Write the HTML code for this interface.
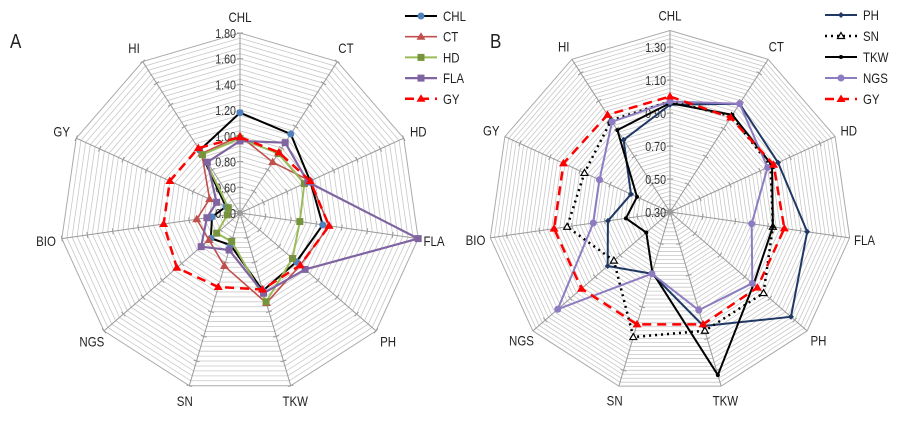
<!DOCTYPE html>
<html><head><meta charset="utf-8">
<style>
html,body{margin:0;padding:0;background:#fff;}
svg{display:block;font-family:"Liberation Sans",sans-serif;}
</style></head>
<body>
<svg id="chart" width="908" height="422" viewBox="0 0 908 422" xmlns="http://www.w3.org/2000/svg">
<text x="10" y="48" font-size="20" fill="#222" transform="translate(10,48) scale(0.85,1) translate(-10,-48)">A</text>
<text x="490" y="48" font-size="20" fill="#222" transform="translate(490,48) scale(0.85,1) translate(-490,-48)">B</text>
</svg>
<script>
const axesA = ["CHL","CT","HD","FLA","PH","TKW","SN","NGS","BIO","GY","HI"];
const axesB = ["CHL","CT","HD","FLA","PH","TKW","SN","NGS","BIO","GY","HI"];
const ticksA = ["0.40","0.60","0.80","1.00","1.20","1.40","1.60","1.80"];
const ticksB = ["0.30","0.50","0.70","0.90","1.10","1.30"];
const seriesNamesA = ["CHL","CT","HD","FLA","GY"];
const seriesNamesB = ["PH","SN","TKW","NGS","GY"];
const aCHL = [1.18,1.13,1.00,1.05,0.98,1.03,0.66,0.70,0.62,0.52,0.98];
const aCT  = [1.00,0.87,1.00,1.10,1.02,1.13,0.83,0.72,0.74,0.66,0.95];
const aHD  = [0.98,0.95,0.95,0.87,0.94,1.12,0.63,0.64,0.50,0.50,0.94];
const aFLA = [0.96,1.05,0.98,1.80,1.07,1.05,0.70,0.80,0.66,0.60,0.87];
const aGY  = [0.99,0.96,1.00,1.10,1.02,1.02,1.00,1.05,1.00,1.00,1.00];
const bPH  = [0.95,1.08,1.02,1.14,1.27,1.02,0.69,0.80,0.68,0.56,0.82];
const bSN  = [0.97,0.99,0.97,0.93,1.05,1.05,1.09,0.75,0.93,0.87,0.96];
const bTKW = [0.96,1.00,0.98,0.93,0.97,1.33,0.68,0.49,0.57,0.52,0.89];
const bNGS = [0.97,1.08,0.95,0.80,0.96,0.92,0.69,1.20,0.77,0.77,0.95];
const bGY  = [1.00,0.98,0.99,1.00,1.00,1.01,1.01,1.01,1.01,1.01,1.00];

const NS="http://www.w3.org/2000/svg";
const svg=document.getElementById('chart');
function mk(tag,attrs,parent){const e=document.createElementNS(NS,tag);for(const k in attrs)e.setAttribute(k,attrs[k]);(parent||svg).appendChild(e);return e;}
function txt(x,y,str,size,anchor,fill,parent){
  const t=mk('text',{x:x,y:y,'font-size':size,fill:fill,'text-anchor':anchor,
    transform:`translate(${x},${y}) scale(0.82,1) translate(${-x},${-y})`},parent);
  t.textContent=str;return t;
}

function radar(cfg){
  const g=mk('g',{});
  
  
  const n=cfg.axes.length;
  const ang=i=>i*2*Math.PI/n;
  const R=v=>(v-cfg.min)/(cfg.max-cfg.min)*cfg.radius;
  const pt=(i,v)=>[cfg.cx+R(v)*Math.sin(ang(i)),cfg.cy-R(v)*Math.cos(ang(i))];
  const steps=Math.round((cfg.max-cfg.min)/cfg.minor);
  for(let s=1;s<=steps;s++){
    const v=cfg.min+s*cfg.minor;
    const pts=cfg.axes.map((a,i)=>pt(i,v).join(',')).join(' ');
    const ring=mk('polygon',{points:pts,fill:'none',stroke:s===steps?'#aaa':'#c8c8c8','stroke-width':s===steps?1:0.8},g);
    
    
  }
  cfg.axes.forEach((a,i)=>{
    const p=pt(i,cfg.max);
    const sp=mk('line',{x1:cfg.cx,y1:cfg.cy,x2:p[0],y2:p[1],stroke:'#999','stroke-width':1},g);
    
    
    cfg.ticks.forEach(t=>{
      const v=parseFloat(t);const q=pt(i,v);
      const dx=Math.cos(ang(i))*3,dy=Math.sin(ang(i))*3;
      const tk=mk('line',{x1:q[0]-dx,y1:q[1]-dy,x2:q[0]+dx,y2:q[1]+dy,stroke:'#999','stroke-width':1},g);
      
      
    });
    const lr=cfg.radius+cfg.labelOff;
    const lx=cfg.cx+lr*Math.sin(ang(i)), ly=cfg.cy-lr*Math.cos(ang(i))+5;
    const t=txt(lx,ly,a,14,'middle','#222',g);
    
    
  });
  cfg.ticks.forEach(tv=>{
    const v=parseFloat(tv);
    const t=txt(cfg.cx-4,cfg.cy-R(v)+5,tv,13,'end','#333',g);
    
    
  });
  cfg.series.forEach((s,si)=>{
    const sg=mk('g',{},g);
    
    
    const pts=s.data.map((v,i)=>pt(i,v).join(',')).join(' ');
    const pl=mk('polygon',{points:pts,fill:'none',stroke:s.color,'stroke-width':s.w,'stroke-dasharray':s.dash||'none','stroke-linejoin':'round'},sg);
    
    
    s.data.forEach((v,i)=>{
      const p=pt(i,v);
      const m=marker(s.marker,p[0],p[1],s.mcolor,sg);
      
      
    });
    const ly=cfg.legY+si*cfg.legStep;
    const lg=mk('g',{},g);
    
    
    mk('line',{x1:cfg.legX,y1:ly,x2:cfg.legX+32,y2:ly,stroke:s.color,'stroke-width':s.w,'stroke-dasharray':s.dash||'none'},lg);
    marker(s.marker,cfg.legX+16,ly,s.mcolor,lg);
    txt(cfg.legX+38,ly+5,s.label,14,'start','#222',lg);
  });
  mk('circle',{cx:cfg.cx,cy:cfg.cy,r:3,fill:'#999'},g);
}
function marker(type,x,y,c,parent){
  if(type==='circle')return mk('circle',{cx:x,cy:y,r:3.5,fill:c},parent);
  if(type==='small')return mk('circle',{cx:x,cy:y,r:2,fill:c},parent);
  if(type==='square')return mk('rect',{x:x-3.5,y:y-3.5,width:7,height:7,fill:c},parent);
  if(type==='diamond')return mk('polygon',{points:`${x},${y-3} ${x+3},${y} ${x},${y+3} ${x-3},${y}`,fill:c},parent);
  if(type==='otri')return mk('polygon',{points:`${x},${y-3.5} ${x+3.5},${y+2.5} ${x-3.5},${y+2.5}`,fill:'#fff',stroke:c,'stroke-width':1.2},parent);
  return mk('polygon',{points:`${x},${y-4.5} ${x+4.5},${y+3} ${x-4.5},${y+3}`,fill:c},parent);
}
radar({name:'radar-chart-a',axes:axesA,ticks:ticksA,cx:240,cy:213,radius:180,min:0.40,max:1.80,minor:0.04,labelOff:16,
  legX:405,legY:16,legStep:20.7,
  series:[
    {label:seriesNamesA[0],data:aCHL,color:'#000',mcolor:'#4f81bd',w:2,marker:'circle'},
    {label:seriesNamesA[1],data:aCT,color:'#c0504d',mcolor:'#c0504d',w:1.6,marker:'tri'},
    {label:seriesNamesA[2],data:aHD,color:'#9bbb59',mcolor:'#77933c',w:2,marker:'square'},
    {label:seriesNamesA[3],data:aFLA,color:'#8064a2',mcolor:'#8064a2',w:2.2,marker:'square'},
    {label:seriesNamesA[4],data:aGY,color:'#ff0000',mcolor:'#ff0000',w:2.5,dash:'9,6',marker:'tri'}
  ]});
radar({name:'radar-chart-b',axes:axesB,ticks:ticksB,cx:670,cy:212,radius:181.5,min:0.30,max:1.40,minor:0.025,labelOff:15,
  legX:825,legY:15,legStep:21,
  series:[
    {label:seriesNamesB[0],data:bPH,color:'#1f3864',mcolor:'#1f3864',w:2,marker:'diamond'},
    {label:seriesNamesB[1],data:bSN,color:'#000',mcolor:'#000',w:2.5,dash:'2,4',marker:'otri'},
    {label:seriesNamesB[2],data:bTKW,color:'#000',mcolor:'#000',w:2,marker:'small'},
    {label:seriesNamesB[3],data:bNGS,color:'#8e7cc3',mcolor:'#8e7cc3',w:2,marker:'circle'},
    {label:seriesNamesB[4],data:bGY,color:'#ff0000',mcolor:'#ff0000',w:2.5,dash:'9,6',marker:'tri'}
  ]});
</script>
</body></html>
